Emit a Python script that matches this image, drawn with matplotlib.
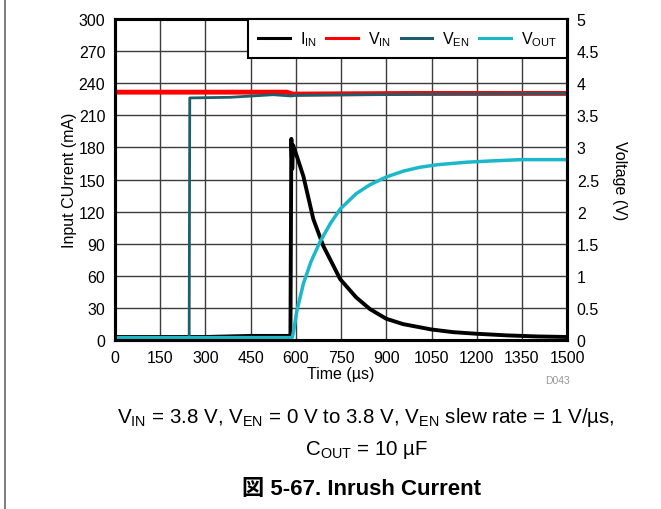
import matplotlib.pyplot as plt
from matplotlib.lines import Line2D

plt.rcParams["font.family"] = ["Liberation Sans", "Noto Sans CJK JP", "DejaVu Sans"]
plt.rcParams["mathtext.fontset"] = "custom"
plt.rcParams["mathtext.rm"] = "Liberation Sans"

# Input current (mA), left axis
t_iin = [0, 150, 300, 450, 575, 582, 585, 588, 591, 603, 625, 658, 691, 720,
         747, 800, 846, 900, 956, 1050, 1122, 1200, 1300, 1400, 1500]
i_in = [3, 3, 3, 4, 4, 4, 188, 160, 182, 172, 153, 113, 88, 72,
        57, 40, 29, 20, 15, 10, 7.5, 6, 4.5, 3.5, 3]

# Voltages (V), right axis
t_vin = [0, 300, 570, 590, 1000, 1500]
v_in = [3.86, 3.86, 3.86, 3.83, 3.84, 3.84]

t_ven = [0, 246, 248, 382, 525, 585, 600, 800, 1100, 1500]
v_en = [0.04, 0.04, 3.77, 3.78, 3.82, 3.80, 3.81, 3.82, 3.83, 3.84]

t_vout = [0, 300, 588, 593, 603, 625, 650, 680, 715, 747, 800, 846, 900,
          956, 1010, 1068, 1167, 1250, 1350, 1500]
v_out = [0.04, 0.04, 0.04, 0.15, 0.45, 0.88, 1.22, 1.53, 1.82, 2.04, 2.28,
         2.42, 2.54, 2.63, 2.69, 2.73, 2.77, 2.79, 2.81, 2.81]

x_ticks = list(range(0, 1501, 150))
i_ticks = list(range(0, 301, 30))
v_ticks = [k * 0.5 for k in range(11)]

C_IIN = "#000000"
C_VIN = "#ff0000"
C_VEN = "#1d5e6d"
C_VOUT = "#1ab8c9"

fig = plt.figure(figsize=(6.61, 5.10), dpi=100)
ax = fig.add_axes([0.174, 0.331, 0.684, 0.630])
ax2 = ax.twinx()

ax.plot(t_iin, i_in, color=C_IIN, lw=2.8, solid_joinstyle="round")
ax2.plot(t_vin, v_in, color=C_VIN, lw=3.5)
ax2.plot(t_ven, v_en, color=C_VEN, lw=2.0)
ax2.plot(t_vout, v_out, color=C_VOUT, lw=2.5)

ax.set_xlim(0, 1500)
ax.set_ylim(0, 300)
ax2.set_ylim(0, 5)
ax.set_xticks(x_ticks)
ax.set_yticks(i_ticks)
ax2.set_yticks(v_ticks)
ax2.set_yticklabels([f"{v:g}" for v in v_ticks])

ax.grid(True, color="#3c3c3c", lw=1.0)
ax.set_axisbelow(True)
for a in (ax, ax2):
    a.tick_params(length=0, labelsize=11.5, pad=7)
    for s in a.spines.values():
        s.set_linewidth(2.2)

ax.set_xlabel("Time (µs)", fontsize=11.5, labelpad=1)
ax.set_ylabel("Input CUrrent (mA)", fontsize=11.5)
ax.yaxis.set_label_coords(-0.085, 0.5)
ax2.set_ylabel("Voltage (V)", fontsize=11.5, rotation=270, labelpad=20)

handles = [Line2D([], [], color=c, lw=2.2) for c in (C_IIN, C_VIN, C_VEN, C_VOUT)]
labels = [r"I$_{\mathregular{IN}}$", r"V$_{\mathregular{IN}}$",
          r"V$_{\mathregular{EN}}$", r"V$_{\mathregular{OUT}}$"]
leg = ax2.legend(handles, labels, loc="upper right", bbox_to_anchor=(1, 1),
                 borderaxespad=0, ncol=4, fontsize=11.5, handlelength=2.0,
                 handletextpad=0.6, columnspacing=0.6, fancybox=False,
                 framealpha=1, edgecolor="black", borderpad=0.65)
leg.get_frame().set_linewidth(1.5)

fig.text(0.862, 0.253, "D043", fontsize=7.5, color="#999999", ha="right", va="center")
fig.text(0.554, 0.181,
         r"V$_{\mathregular{IN}}$ = 3.8 V, V$_{\mathregular{EN}}$ = 0 V to 3.8 V, "
         r"V$_{\mathregular{EN}}$ slew rate = 1 V/µs,",
         fontsize=14.8, ha="center", va="center")
fig.text(0.554, 0.118, r"C$_{\mathregular{OUT}}$ = 10 µF", fontsize=14.8,
         ha="center", va="center")
fig.text(0.547, 0.040, "図 5-67. Inrush Current", fontsize=16,
         fontweight="bold", ha="center", va="center")

# thin frame line down the left edge
fig.add_artist(Line2D([0.007, 0.007], [0, 1], color="#666666", lw=1.2,
                      transform=fig.transFigure))

fig.savefig("out.png", dpi=100)
